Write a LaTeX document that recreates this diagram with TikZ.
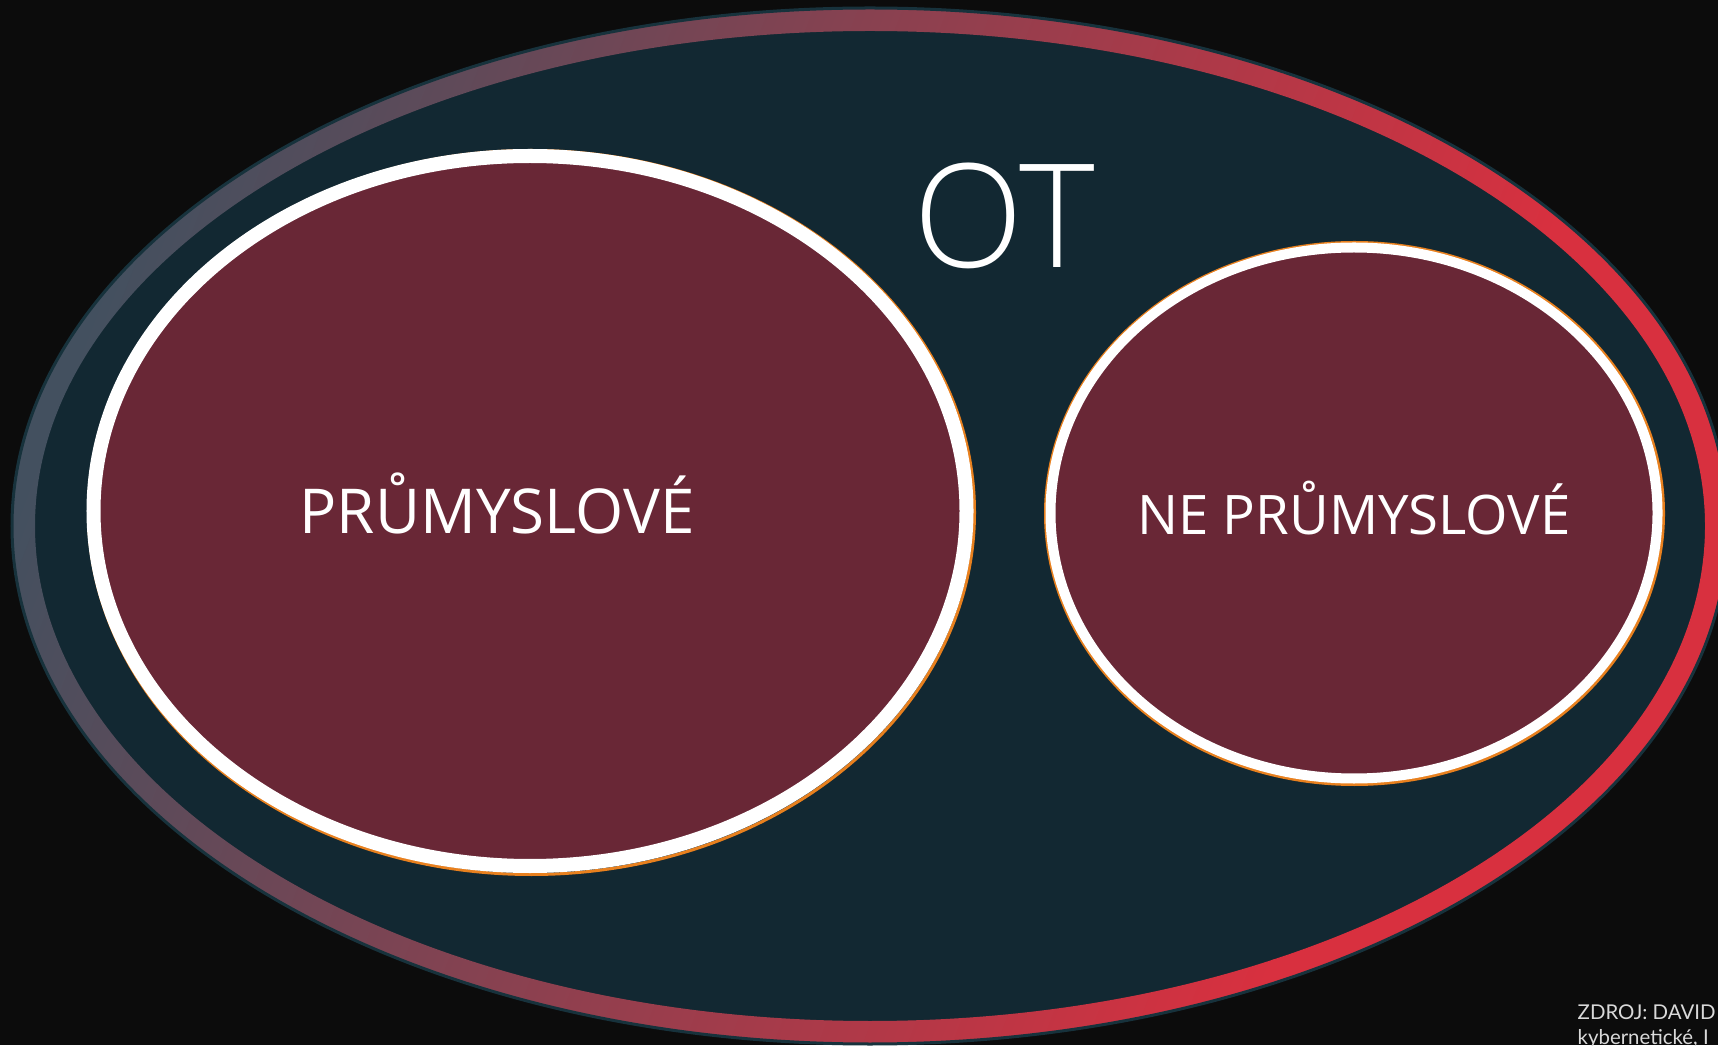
\documentclass[tikz,border=0pt]{standalone}
\usepackage{fontspec}
\setmainfont{Open Sans}
\newfontfamily\thinfont{Open Sans Light}
\newfontfamily\srcfont{Lato}
\usetikzlibrary{positioning}
\definecolor{bgdark}{HTML}{0C0C0C}
\definecolor{otteal}{HTML}{122832}
\definecolor{rimteal}{HTML}{17323C}
\definecolor{ringgray}{HTML}{43505F}
\definecolor{ringred}{HTML}{D8303F}
\definecolor{maroon}{HTML}{692736}
\definecolor{glowor}{HTML}{E8801E}

\begin{document}
\begin{tikzpicture}[x=0.01cm, y=0.01cm,
  glow/.style={draw=glowor, line width=0.03cm},
  lab/.style={text=white, anchor=base, inner sep=0pt},
  src/.style={text=white!85!black, anchor=base west, inner sep=0pt, font=\srcfont\fontsize{5.8}{7}\selectfont}]
\useasboundingbox (0,0) rectangle (1718,1045);
\fill[bgdark] (0,0) rectangle (1718,1045);
\clip (0,0) rectangle (1718,1045);
% OT
\fill[otteal] (870,519) ellipse (857 and 517);
\begin{scope}[even odd rule]
  \clip (870,519) ellipse (857 and 517) (870,519) ellipse (835 and 495);
  \begin{scope}[transform canvas={rotate around={-21:(728,525)}}]
    \fill[ringgray] (-1500,-1000) rectangle (62,2050);
    \fill[ringred] (1394,-1000) rectangle (3000,2050);
    \shade[left color=ringgray, right color=ringred] (61,-1000) rectangle (1395,2050);
  \end{scope}
\end{scope}
\draw[rimteal, line width=0.03cm] (870,519) ellipse (858 and 518);
\node[lab, font=\thinfont\fontsize{41}{48}\selectfont] (ot) at (1004,777) {OT};
% left bubble
\fill[maroon] (530,534) ellipse (437 and 355);
\draw[glow] (531.5,532.5) ellipse (443 and 362);
\draw[white, line width=0.14cm] (530,534) ellipse (436.5 and 355);
\node[lab, font=\fontsize{17.6}{21}\selectfont] (prum) at (497,511) {PRŮMYSLOVÉ};
% right bubble
\fill[maroon] (1354,532) ellipse (304 and 266);
\draw[glow] (1354.5,531.5) ellipse (309 and 271);
\draw[white, line width=0.1cm] (1354,532) ellipse (303.5 and 265.5);
\node[lab, font=\fontsize{15.5}{19}\selectfont] (neprum) at (1354,510) {NE PRŮMYSLOVÉ};
% source
\node[src] (src1) at (1577,26) {ZDROJ: DAVID};
\node[src] (src2) at (1577,1) {kybernetické, I};
\end{tikzpicture}
\end{document}
